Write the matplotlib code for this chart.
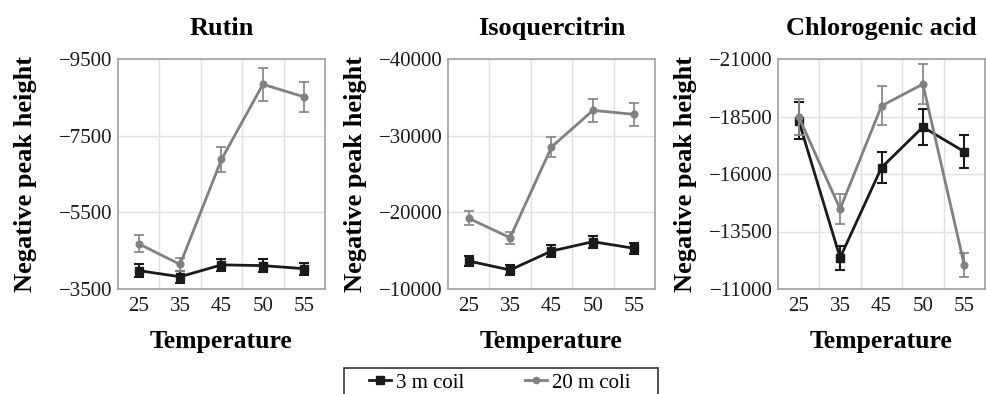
import matplotlib
matplotlib.use('Agg')
import matplotlib.pyplot as plt
import numpy as np
from matplotlib.lines import Line2D
from matplotlib.patches import Rectangle

plt.rcParams['font.family'] = ['Liberation Serif', 'DejaVu Serif']
plt.rcParams['axes.unicode_minus'] = True

temps = ['25', '35', '45', '50', '55']

# rutin
rutin_3m = [-3980, -3820, -4130, -4110, -4030]
rutin_3m_err = [160, 155, 165, 160, 160]
rutin_20m = [-4680, -4140, -6880, -8840, -8510]
rutin_20m_err = [220, 165, 325, 435, 395]

# isoquercitrin
isoq_3m = [-13650, -12480, -14950, -16170, -15300]
isoq_3m_err = [610, 650, 780, 800, 670]
isoq_20m = [-19220, -16690, -28520, -33300, -32780]
isoq_20m_err = [910, 780, 1280, 1500, 1480]

# chlorogenic acid
chlor_3m = [-18320, -12360, -16280, -18040, -16970]
chlor_3m_err = [800, 530, 675, 775, 725]
chlor_20m = [-18490, -14480, -18960, -19910, -12040]
chlor_20m_err = [790, 650, 850, 875, 530]

titles = ['Rutin', 'Isoquercitrin', 'Chlorogenic acid']
yticks = [[-9500, -7500, -5500, -3500],
          [-40000, -30000, -20000, -10000],
          [-21000, -18500, -16000, -13500, -11000]]
series = [(rutin_3m, rutin_3m_err, rutin_20m, rutin_20m_err),
          (isoq_3m, isoq_3m_err, isoq_20m, isoq_20m_err),
          (chlor_3m, chlor_3m_err, chlor_20m, chlor_20m_err)]

BLACK = '#1a1a1a'
GRAY = '#808080'
W, H = 987, 394
fig = plt.figure(figsize=(W / 100, H / 100), dpi=100)

lefts = [118, 448, 778]
x = np.arange(len(temps))
for i in range(3):
    ax = fig.add_axes([lefts[i] / W, (H - 289) / H, 207 / W, 230 / H])
    y3, e3, y20, e20 = series[i]
    ax.errorbar(x, y3, yerr=e3, color=BLACK, lw=2, marker='s', ms=6,
                capsize=3.9, elinewidth=1.5, capthick=1.5, zorder=3)
    ax.errorbar(x, y20, yerr=e20, color=GRAY, lw=2, marker='o', ms=4.8,
                ecolor='#8a8a8a', capsize=3.9, elinewidth=1.3, capthick=1.3,
                zorder=4)
    yt = yticks[i]
    ax.set_yticks(yt)
    ax.set_yticklabels(['\u2212%d' % abs(t) for t in yt])
    ax.set_ylim(max(yt), min(yt))
    ax.set_xlim(-0.5, 4.5)
    ax.set_xticks(x)
    ax.set_xticklabels(temps)
    ax.set_xticks(x[:-1] + 0.5, minor=True)
    ax.grid(True, which='minor', axis='x', color='#e0e0e0', lw=1)
    ax.grid(True, which='major', axis='y', color='#e0e0e0', lw=1)
    ax.set_axisbelow(True)
    ax.tick_params(which='both', length=0, labelsize=15, colors='#1a1a1a')
    ax.tick_params(axis='x', pad=6)
    ax.tick_params(axis='y', pad=4)
    for sp in ax.spines.values():
        sp.set_color('#a0a0a0')
        sp.set_linewidth(1.2)
    ax.set_title(titles[i], fontsize=19, fontweight='bold', pad=17)
    ax.set_xlabel('Temperature', fontsize=18.5, fontweight='bold', labelpad=10)
    ax.set_ylabel('Negative peak height', fontsize=19, fontweight='bold')
    ax.yaxis.set_label_coords(-81 / 207, 0.5)

# legend box runs off the bottom edge
fig.patches.append(Rectangle((344 / W, -0.05), 314 / W, (H - 368) / H + 0.05,
                             transform=fig.transFigure, fill=False,
                             edgecolor='#333333', lw=1.2))
handles = [Line2D([], [], color=BLACK, lw=2, marker='s', ms=5.5),
           Line2D([], [], color=GRAY, lw=2, marker='o', ms=4.5)]
fig.legend(handles, ['3 m coil', '20 m coli'], loc='upper left',
           bbox_to_anchor=(369 / W, (H - 373) / H), ncol=2, fontsize=15,
           frameon=False, borderaxespad=0, borderpad=0,
           handlelength=1.05, handletextpad=0.25, columnspacing=2.9)

fig.savefig('out.png', dpi=100)
